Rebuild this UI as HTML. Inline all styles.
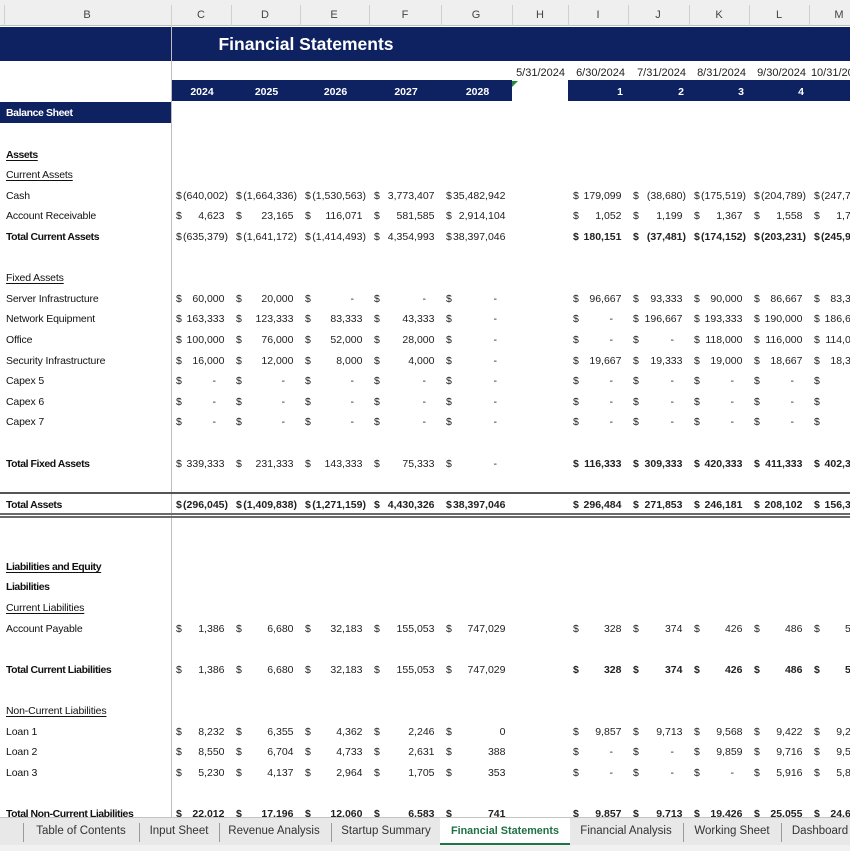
<!DOCTYPE html>
<html><head><meta charset="utf-8"><style>
*{margin:0;padding:0;box-sizing:border-box}
body{width:850px;height:850px;overflow:hidden;position:relative;background:#fff;font-family:"Liberation Sans",Arial,sans-serif;color:#1a1a1a}
.hdr{position:absolute;top:0;left:0;width:850px;height:26px;background:#efefef;border-bottom:1px solid #bdbdbd}
.hdr span{position:absolute;top:9px;font-size:11px;color:#444;transform:translateX(-50%)}
.hdr i{position:absolute;top:5px;width:1px;height:21px;background:#d0d0d0}
.title{position:absolute;top:26.5px;left:0;width:850px;height:34px;background:#0e2161}
.title span{position:absolute;left:306px;top:7px;transform:translateX(-50%);color:#fff;font-weight:bold;font-size:17.5px;white-space:nowrap}
.r{display:flex;height:20.62px;width:900px;font-size:10.5px;align-items:center}
.r>div{height:100%;display:flex;align-items:center;justify-content:space-between;padding:2px 3px 0 5px;white-space:nowrap;flex:none;color:#222}
.r>div:nth-child(1){width:171px;padding-left:6px;justify-content:flex-start;color:#111;letter-spacing:-0.15px}
.r>div:nth-child(2){width:60px}
.r>div:nth-child(3){width:69px}
.r>div:nth-child(4){width:69px}
.r>div:nth-child(5){width:72px}
.r>div:nth-child(6){width:71px}
.r>div:nth-child(7){width:56px}
.r>div:nth-child(8){width:60px}
.r>div:nth-child(9){width:61px}
.r>div:nth-child(10){width:60px}
.r>div:nth-child(11){width:60px}
.r>div:nth-child(12){width:60px}
em{font-style:normal}
em.p{padding-right:3.5px}
em.d{padding-right:12px}
.rows{position:absolute;top:102px;left:0}
.bs>div:first-child{background:#0e2161;color:#fff;font-weight:bold;letter-spacing:-0.4px}
.bl>div:first-child{font-weight:bold;letter-spacing:-0.45px}
.ul>div:first-child{text-decoration:underline;text-underline-offset:1.5px}
.bi>div:nth-child(n+8){font-weight:bold}
.ba>div{font-weight:bold}
.ba>div:first-child{letter-spacing:-0.45px}
.dates{position:absolute;top:62px;left:0}
.dates .r>div{justify-content:flex-end;font-size:11px;color:#222}
.years{position:absolute;top:80.3px;left:0}
.years .r{height:20.4px}
.years .r>div{background:#0e2161;color:#fff;font-weight:bold;justify-content:center;padding-top:3px}
.years .r>div:nth-child(1),.years .r>div:nth-child(7){background:#fff}
.years .r>div:nth-child(n+8){justify-content:flex-end;padding-right:5px}
.tri{position:absolute;left:512px;top:81px;width:0;height:0;border-top:6px solid #1f8a3b;border-right:6px solid transparent}
.vl{position:absolute;left:170.5px;top:26px;width:1px;height:791px;background:#bdbdbd}
.ln{position:absolute;left:0;width:850px}
.tabs{position:absolute;top:817px;left:0;width:850px;height:33px;background:#e8e8e8;border-top:1px solid #c4c4c4}
.tabs .bot{position:absolute;left:0;top:27px;width:850px;height:6px;background:#f1f1f1}
.tabs span{position:absolute;top:7px;font-size:11.5px;color:#333;transform:translateX(-50%);white-space:nowrap}
.tabs i{position:absolute;top:5px;width:1px;height:19px;background:#9a9a9a}
.act{position:absolute;left:440px;top:0;width:130px;height:27px;background:#fff;border-bottom:2px solid #217346}
.act span{left:65px;color:#1e7145;font-weight:bold;font-size:10.8px;top:7px}
</style></head><body>

<div class="hdr">
<i style="left:4px"></i><i style="left:171px"></i><i style="left:231px"></i><i style="left:300px"></i><i style="left:369px"></i><i style="left:441px"></i><i style="left:512px"></i><i style="left:568px"></i><i style="left:628px"></i><i style="left:689px"></i><i style="left:749px"></i><i style="left:809px"></i>
<span style="left:87px">B</span><span style="left:201px">C</span><span style="left:265px">D</span><span style="left:334px">E</span><span style="left:405px">F</span><span style="left:476px">G</span><span style="left:540px">H</span><span style="left:598px">I</span><span style="left:658px">J</span><span style="left:719px">K</span><span style="left:779px">L</span><span style="left:839px">M</span>
</div>

<div class="title"><span>Financial Statements</span></div>

<div class="dates"><div class="r"><div></div><div></div><div></div><div></div><div></div><div></div><div>5/31/2024</div><div>6/30/2024</div><div>7/31/2024</div><div>8/31/2024</div><div>9/30/2024</div><div>10/31/2024</div></div></div>

<div class="years"><div class="r"><div></div><div>2024</div><div>2025</div><div>2026</div><div>2027</div><div>2028</div><div></div><div>1</div><div>2</div><div>3</div><div>4</div><div>5</div></div></div>
<div class="tri"></div>

<div class="vl"></div>

<div class="rows">
<div class="r bs"><div>Balance Sheet</div></div>
<div class="r"></div>
<div class="r bl ul"><div>Assets</div></div>
<div class="r ul"><div>Current Assets</div></div>
<div class="r"><div>Cash</div><div>$<em>(640,002)</em></div><div>$<em>(1,664,336)</em></div><div>$<em>(1,530,563)</em></div><div>$<em class="p">3,773,407</em></div><div>$<em class="p">35,482,942</em></div><div></div><div>$<em class="p">179,099</em></div><div>$<em>(38,680)</em></div><div>$<em>(175,519)</em></div><div>$<em>(204,789)</em></div><div>$<em>(247,719)</em></div></div>
<div class="r"><div>Account Receivable</div><div>$<em class="p">4,623</em></div><div>$<em class="p">23,165</em></div><div>$<em class="p">116,071</em></div><div>$<em class="p">581,585</em></div><div>$<em class="p">2,914,104</em></div><div></div><div>$<em class="p">1,052</em></div><div>$<em class="p">1,199</em></div><div>$<em class="p">1,367</em></div><div>$<em class="p">1,558</em></div><div>$<em class="p">1,776</em></div></div>
<div class="r bl bi"><div>Total Current Assets</div><div>$<em>(635,379)</em></div><div>$<em>(1,641,172)</em></div><div>$<em>(1,414,493)</em></div><div>$<em class="p">4,354,993</em></div><div>$<em class="p">38,397,046</em></div><div></div><div>$<em class="p">180,151</em></div><div>$<em>(37,481)</em></div><div>$<em>(174,152)</em></div><div>$<em>(203,231)</em></div><div>$<em>(245,943)</em></div></div>
<div class="r"></div>
<div class="r ul"><div>Fixed Assets</div></div>
<div class="r"><div>Server Infrastructure</div><div>$<em class="p">60,000</em></div><div>$<em class="p">20,000</em></div><div>$<em class="d">-</em></div><div>$<em class="d">-</em></div><div>$<em class="d">-</em></div><div></div><div>$<em class="p">96,667</em></div><div>$<em class="p">93,333</em></div><div>$<em class="p">90,000</em></div><div>$<em class="p">86,667</em></div><div>$<em class="p">83,333</em></div></div>
<div class="r"><div>Network Equipment</div><div>$<em class="p">163,333</em></div><div>$<em class="p">123,333</em></div><div>$<em class="p">83,333</em></div><div>$<em class="p">43,333</em></div><div>$<em class="d">-</em></div><div></div><div>$<em class="d">-</em></div><div>$<em class="p">196,667</em></div><div>$<em class="p">193,333</em></div><div>$<em class="p">190,000</em></div><div>$<em class="p">186,667</em></div></div>
<div class="r"><div>Office</div><div>$<em class="p">100,000</em></div><div>$<em class="p">76,000</em></div><div>$<em class="p">52,000</em></div><div>$<em class="p">28,000</em></div><div>$<em class="d">-</em></div><div></div><div>$<em class="d">-</em></div><div>$<em class="d">-</em></div><div>$<em class="p">118,000</em></div><div>$<em class="p">116,000</em></div><div>$<em class="p">114,000</em></div></div>
<div class="r"><div>Security Infrastructure</div><div>$<em class="p">16,000</em></div><div>$<em class="p">12,000</em></div><div>$<em class="p">8,000</em></div><div>$<em class="p">4,000</em></div><div>$<em class="d">-</em></div><div></div><div>$<em class="p">19,667</em></div><div>$<em class="p">19,333</em></div><div>$<em class="p">19,000</em></div><div>$<em class="p">18,667</em></div><div>$<em class="p">18,333</em></div></div>
<div class="r"><div>Capex 5</div><div>$<em class="d">-</em></div><div>$<em class="d">-</em></div><div>$<em class="d">-</em></div><div>$<em class="d">-</em></div><div>$<em class="d">-</em></div><div></div><div>$<em class="d">-</em></div><div>$<em class="d">-</em></div><div>$<em class="d">-</em></div><div>$<em class="d">-</em></div><div>$<em class="d">-</em></div></div>
<div class="r"><div>Capex 6</div><div>$<em class="d">-</em></div><div>$<em class="d">-</em></div><div>$<em class="d">-</em></div><div>$<em class="d">-</em></div><div>$<em class="d">-</em></div><div></div><div>$<em class="d">-</em></div><div>$<em class="d">-</em></div><div>$<em class="d">-</em></div><div>$<em class="d">-</em></div><div>$<em class="d">-</em></div></div>
<div class="r"><div>Capex 7</div><div>$<em class="d">-</em></div><div>$<em class="d">-</em></div><div>$<em class="d">-</em></div><div>$<em class="d">-</em></div><div>$<em class="d">-</em></div><div></div><div>$<em class="d">-</em></div><div>$<em class="d">-</em></div><div>$<em class="d">-</em></div><div>$<em class="d">-</em></div><div>$<em class="d">-</em></div></div>
<div class="r"></div>
<div class="r bl bi"><div>Total Fixed Assets</div><div>$<em class="p">339,333</em></div><div>$<em class="p">231,333</em></div><div>$<em class="p">143,333</em></div><div>$<em class="p">75,333</em></div><div>$<em class="d">-</em></div><div></div><div>$<em class="p">116,333</em></div><div>$<em class="p">309,333</em></div><div>$<em class="p">420,333</em></div><div>$<em class="p">411,333</em></div><div>$<em class="p">402,333</em></div></div>
<div class="r"></div>
<div class="r ba"><div>Total Assets</div><div>$<em>(296,045)</em></div><div>$<em>(1,409,838)</em></div><div>$<em>(1,271,159)</em></div><div>$<em class="p">4,430,326</em></div><div>$<em class="p">38,397,046</em></div><div></div><div>$<em class="p">296,484</em></div><div>$<em class="p">271,853</em></div><div>$<em class="p">246,181</em></div><div>$<em class="p">208,102</em></div><div>$<em class="p">156,390</em></div></div>
<div class="r"></div>
<div class="r"></div>
<div class="r bl ul"><div>Liabilities and Equity</div></div>
<div class="r bl"><div>Liabilities</div></div>
<div class="r ul"><div>Current Liabilities</div></div>
<div class="r"><div>Account Payable</div><div>$<em class="p">1,386</em></div><div>$<em class="p">6,680</em></div><div>$<em class="p">32,183</em></div><div>$<em class="p">155,053</em></div><div>$<em class="p">747,029</em></div><div></div><div>$<em class="p">328</em></div><div>$<em class="p">374</em></div><div>$<em class="p">426</em></div><div>$<em class="p">486</em></div><div>$<em class="p">554</em></div></div>
<div class="r"></div>
<div class="r bl bi"><div>Total Current Liabilities</div><div>$<em class="p">1,386</em></div><div>$<em class="p">6,680</em></div><div>$<em class="p">32,183</em></div><div>$<em class="p">155,053</em></div><div>$<em class="p">747,029</em></div><div></div><div>$<em class="p">328</em></div><div>$<em class="p">374</em></div><div>$<em class="p">426</em></div><div>$<em class="p">486</em></div><div>$<em class="p">554</em></div></div>
<div class="r"></div>
<div class="r ul"><div>Non-Current Liabilities</div></div>
<div class="r"><div>Loan 1</div><div>$<em class="p">8,232</em></div><div>$<em class="p">6,355</em></div><div>$<em class="p">4,362</em></div><div>$<em class="p">2,246</em></div><div>$<em class="p">0</em></div><div></div><div>$<em class="p">9,857</em></div><div>$<em class="p">9,713</em></div><div>$<em class="p">9,568</em></div><div>$<em class="p">9,422</em></div><div>$<em class="p">9,276</em></div></div>
<div class="r"><div>Loan 2</div><div>$<em class="p">8,550</em></div><div>$<em class="p">6,704</em></div><div>$<em class="p">4,733</em></div><div>$<em class="p">2,631</em></div><div>$<em class="p">388</em></div><div></div><div>$<em class="d">-</em></div><div>$<em class="d">-</em></div><div>$<em class="p">9,859</em></div><div>$<em class="p">9,716</em></div><div>$<em class="p">9,572</em></div></div>
<div class="r"><div>Loan 3</div><div>$<em class="p">5,230</em></div><div>$<em class="p">4,137</em></div><div>$<em class="p">2,964</em></div><div>$<em class="p">1,705</em></div><div>$<em class="p">353</em></div><div></div><div>$<em class="d">-</em></div><div>$<em class="d">-</em></div><div>$<em class="d">-</em></div><div>$<em class="p">5,916</em></div><div>$<em class="p">5,843</em></div></div>
<div class="r"></div>
<div class="r ba"><div>Total Non-Current Liabilities</div><div>$<em class="p">22,012</em></div><div>$<em class="p">17,196</em></div><div>$<em class="p">12,060</em></div><div>$<em class="p">6,583</em></div><div>$<em class="p">741</em></div><div></div><div>$<em class="p">9,857</em></div><div>$<em class="p">9,713</em></div><div>$<em class="p">19,426</em></div><div>$<em class="p">25,055</em></div><div>$<em class="p">24,691</em></div></div>
</div>

<div class="ln" style="top:492px;height:2px;background:#555"></div>
<div class="ln" style="top:513px;height:1.5px;background:#6a6a6a"></div>
<div class="ln" style="top:516px;height:1.5px;background:#6a6a6a"></div>

<div class="tabs">
<div class="bot"></div>
<i style="left:23px"></i><i style="left:139px"></i><i style="left:219px"></i><i style="left:331px"></i><i style="left:683px"></i><i style="left:781px"></i>
<span style="left:81px">Table of Contents</span>
<span style="left:179px">Input Sheet</span>
<span style="left:274px">Revenue Analysis</span>
<span style="left:386px">Startup Summary</span>
<span style="left:626px">Financial Analysis</span>
<span style="left:732px">Working Sheet</span>
<span style="left:820px">Dashboard</span>
<div class="act"><span>Financial Statements</span></div>
</div>

</body></html>
